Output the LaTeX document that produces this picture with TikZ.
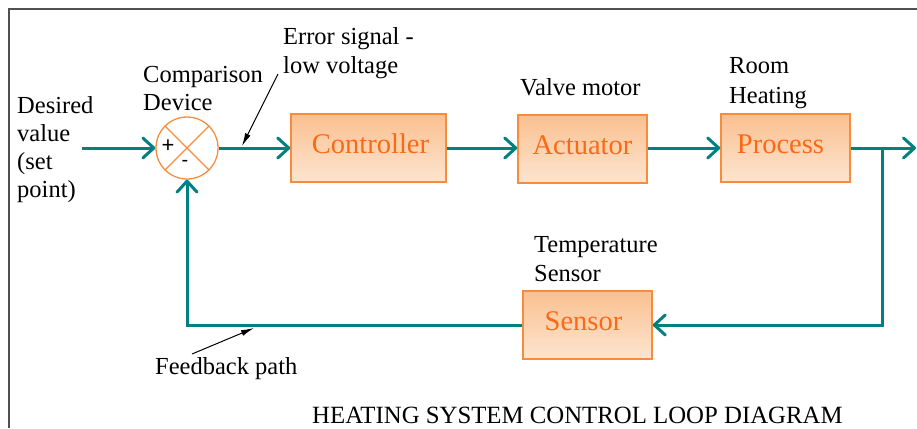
\documentclass[tikz,border=0pt]{standalone}
\usepackage{fontspec}
\setmainfont{Liberation Serif}
\newfontfamily\signfont{Liberation Sans}
\usetikzlibrary{arrows.meta}
\definecolor{teal2}{RGB}{0,128,128}
\definecolor{boxtop}{RGB}{250,192,144}
\definecolor{boxbot}{RGB}{253,229,208}
\definecolor{boxline}{RGB}{247,140,60}
\definecolor{boxtext}{RGB}{252,105,20}
\definecolor{frame}{RGB}{80,80,80}
\tikzset{
  lbl/.style={anchor=base west, inner sep=0pt, font=\fontsize{24.5}{28}\selectfont},
  blockbox/.style={draw=boxline, line width=1.5pt, top color=boxtop, bottom color=boxbot,
    minimum height=68pt, inner sep=0pt, text=boxtext,
    font=\fontsize{28.5}{32}\selectfont, text height=19pt, text depth=9pt},
  sig/.style={draw=teal2, line width=3pt, -{Straight Barb[length=11pt,width=20pt,round]}},
  note/.style={draw=black, line width=1pt, -{Latex[length=13pt,width=6pt]}}
}
\begin{document}
\begin{tikzpicture}[x=1pt,y=-1pt]
\useasboundingbox (0,0) rectangle (917,428);
% frame
\draw[frame, line width=1.5pt] (9,428) -- (9,9) -- (917,9);

% blocks
\node[circle, draw=boxline, line width=1.3pt, fill=white, minimum size=62pt, inner sep=0pt] (cmp) at (187,148) {};
\draw[boxline, line width=1.3pt] (cmp.north west) -- (cmp.south east);
\draw[boxline, line width=1.3pt] (cmp.south west) -- (cmp.north east);
\node[font=\signfont\fontsize{22}{22}\selectfont, inner sep=0pt] (plus) at (168,146) {+};
\node[font=\signfont\fontsize{20}{20}\selectfont, inner sep=0pt] (minus) at (185,163) {-};

\node[blockbox, minimum width=155pt] (ctrl) at (368.5,148) {\hspace*{4pt}Controller};
\node[blockbox, minimum width=129pt] (act) at (582.5,149) {Actuator};
\node[blockbox, minimum width=129pt] (proc) at (785.5,148) {\hspace*{-10pt}Process};
\node[blockbox, minimum width=129pt] (sens) at (587.5,325) {\hspace*{-8pt}Sensor};

% connectors
\coordinate (inp) at (82,148);
\coordinate (outp) at (916,148);
\coordinate (br) at (882,148);
\draw[sig] (inp) -- (cmp.west);
\draw[sig] (cmp.east) -- (ctrl.west);
\draw[sig] (ctrl.east) -- (act.west |- ctrl.east);
\draw[sig] (act.east |- proc.west) -- (proc.west);
\draw[sig] (proc.east) -- (outp);
\draw[sig] (br) |- (sens.east);
\draw[sig] (sens.west) -| (cmp.south);

% annotation arrows
\coordinate (errA) at (278,74);
\coordinate (errB) at (242,146);
\coordinate (fbA) at (192,354);
\coordinate (fbB) at (254,328);
\draw[note] (errA) -- (errB);
\draw[note] (fbA) -- (fbB);

% labels
\node[lbl] (d1) at (17,113) {Desired};
\node[lbl] (d2) at (17,141) {value};
\node[lbl] (d3) at (17,169) {(set};
\node[lbl] (d4) at (17,197) {point)};
\node[lbl] (c1) at (143,82) {Comparison};
\node[lbl] (c2) at (143,110) {Device};
\node[lbl] (e1) at (283,45) {Error signal -};
\node[lbl] (e2) at (283,73) {low voltage};
\node[lbl] (v1) at (520,95) {Valve motor};
\node[lbl] (r1) at (729,74) {Room};
\node[lbl] (r2) at (729,103) {Heating};
\node[lbl] (t1) at (534,252) {Temperature};
\node[lbl] (t2) at (534,281) {Sensor};
\node[lbl] (fb) at (155,374) {Feedback path};
\node[anchor=base west, inner sep=0pt, font=\fontsize{24.8}{28}\selectfont] (title) at (312,423) {HEATING SYSTEM CONTROL LOOP DIAGRAM};
\end{tikzpicture}
\end{document}
